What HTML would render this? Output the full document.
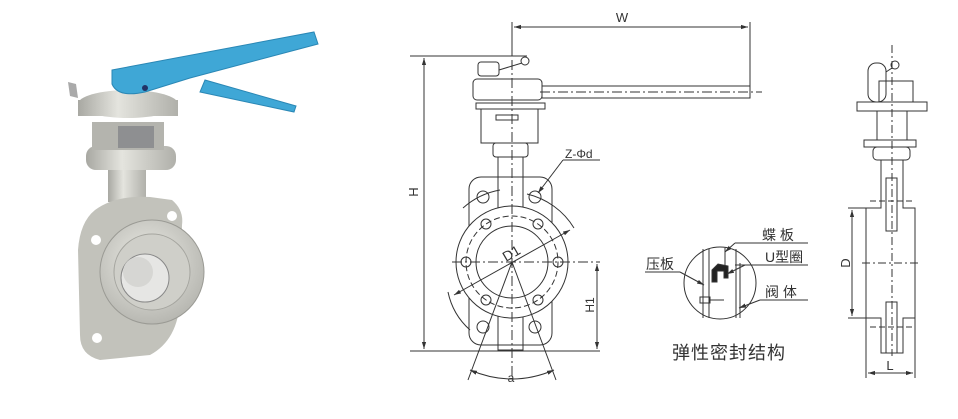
<!DOCTYPE html>
<html><head><meta charset="utf-8"><style>
html,body{margin:0;padding:0;background:#fff;}
svg{display:block}
text{font-family:"Liberation Sans","Noto Sans CJK SC",sans-serif;fill:#333}
</style></head><body>
<svg width="958" height="419" viewBox="0 0 958 419" xmlns="http://www.w3.org/2000/svg">
<defs>
<linearGradient id="met" x1="0" x2="1" y1="0" y2="0">
<stop offset="0" stop-color="#a8a8a2"/><stop offset=".4" stop-color="#e4e4de"/><stop offset="1" stop-color="#b0b0aa"/></linearGradient>
<radialGradient id="face" cx=".45" cy=".4" r=".6"><stop offset="0" stop-color="#ececE6"/><stop offset="1" stop-color="#b8b8b2"/></radialGradient>
<marker id="ar" viewBox="0 0 10 10" refX="10" refY="5" markerWidth="7" markerHeight="7" orient="auto-start-reverse"><path d="M0,2 L10,5 L0,8z" fill="#333"/></marker>
</defs>

<!-- PHOTO -->
<g>
<rect x="108" y="168" width="38" height="34" fill="url(#met)"/>
<path d="M95,210 Q115,195 150,197 L172,200 Q184,210 182,225 L180,300 Q178,340 150,355 L100,360 Q80,355 80,335 L78,250 Q80,222 95,210z" fill="#c2c2bb"/>
<circle cx="152" cy="272" r="52" fill="url(#face)" stroke="#9a9a94"/>
<circle cx="152" cy="272" r="38" fill="#cfcfc9" stroke="#a5a59f"/>
<circle cx="145" cy="278" r="24" fill="#e6e6e4" stroke="#888"/>
<circle cx="138" cy="272" r="15" fill="#d6d6d3"/>
<circle cx="96" cy="240" r="5" fill="#fff"/><circle cx="172" cy="216" r="5" fill="#fff"/><circle cx="97" cy="338" r="5" fill="#fff"/>
<rect x="86" y="146" width="90" height="24" rx="10" fill="url(#met)"/>
<rect x="92" y="122" width="72" height="28" fill="#b4b4ae"/>
<rect x="118" y="126" width="36" height="22" fill="#8e8f91"/>
<ellipse cx="128" cy="104" rx="50" ry="14" fill="url(#met)"/>
<rect x="78" y="100" width="100" height="16" fill="url(#met)"/>
<path d="M68,82 L76,84 L78,98 L70,96z" fill="#aaa"/>
<path d="M112,70 L314,32 L318,44 L190,78 L145,92 Q118,98 112,84z" fill="#3fa7d6" stroke="#2a87b5"/>
<path d="M205,80 L296,106 L294,112 L200,92z" fill="#3fa7d6" stroke="#2a87b5"/>
<circle cx="145" cy="88" r="3" fill="#236"/>
</g>

<g stroke="#333" stroke-width="1" fill="none">
<line x1="512" y1="22" x2="512" y2="56"/><line x1="750" y1="22" x2="750" y2="98"/>
<line x1="514" y1="27" x2="748" y2="27" marker-start="url(#ar)" marker-end="url(#ar)"/>
<line x1="410" y1="56" x2="527" y2="56"/><line x1="410" y1="351" x2="600" y2="351"/>
<line x1="424" y1="58" x2="424" y2="349" marker-start="url(#ar)" marker-end="url(#ar)"/>
<rect x="478" y="62" width="21" height="14" rx="3"/>
<line x1="499" y1="70" x2="522" y2="63"/><circle cx="525" cy="61" r="4"/>
<rect x="473" y="79" width="69" height="21" rx="4"/>
<rect x="542" y="86" width="208" height="12"/>
<rect x="476" y="103" width="69" height="6"/>
<rect x="481" y="109" width="57" height="34"/>
<rect x="496" y="115" width="22" height="5"/>
<rect x="493" y="143" width="35" height="14" rx="3"/>
<rect x="498" y="157" width="25" height="193"/>
<rect x="469" y="177" width="83" height="168" rx="12"/>
<circle cx="512" cy="262" r="56" fill="#fff"/>
<circle cx="512" cy="262" r="36"/>
<circle cx="512" cy="262" r="46" stroke-dasharray="6,3"/>
<circle cx="483" cy="197" r="6"/><circle cx="535" cy="197" r="6"/><circle cx="483" cy="327" r="6"/><circle cx="535" cy="327" r="6"/>
<circle cx="466" cy="262" r="5"/><circle cx="558" cy="262" r="5"/>
<circle cx="486" cy="224" r="5"/><circle cx="538" cy="224" r="5"/><circle cx="486" cy="300" r="5"/><circle cx="538" cy="300" r="5"/>
<line x1="452" y1="262" x2="600" y2="262" stroke-dasharray="10,3,2,3"/>
<line x1="512" y1="60" x2="512" y2="378" stroke-dasharray="10,3,2,3"/>
<line x1="540" y1="92" x2="762" y2="92" stroke-dasharray="10,3,2,3"/>
<line x1="597" y1="264" x2="597" y2="349" marker-start="url(#ar)" marker-end="url(#ar)"/>
<line x1="454" y1="295" x2="570" y2="230" marker-start="url(#ar)" marker-end="url(#ar)"/>
<path d="M448,292 A70,70 0 0 0 470,330"/><path d="M463,208 A75,75 0 0 1 500,190"/><path d="M527,194 A75,75 0 0 1 574,228"/>
<line x1="512" y1="262" x2="468" y2="380"/><line x1="512" y1="262" x2="556" y2="380"/>
<path d="M470,370 Q512,388 554,370" marker-start="url(#ar)" marker-end="url(#ar)"/>
<line x1="563" y1="160" x2="600" y2="160"/><line x1="563" y1="160" x2="538" y2="193" marker-end="url(#ar)"/>

<circle cx="720" cy="283" r="36"/>
<line x1="703" y1="249" x2="703" y2="318"/><line x1="709" y1="249" x2="709" y2="318"/>
<line x1="725" y1="248" x2="725" y2="276"/><line x1="736" y1="249" x2="736" y2="318"/>
<line x1="740" y1="263" x2="740" y2="318"/>
<path d="M712,270 L718,264 L728,266 L728,278 L724,278 L724,271 L717,271 L717,282 L712,282z" fill="#222"/>
<rect x="700" y="297" width="10" height="6"/><line x1="710" y1="300" x2="724" y2="300"/>
<line x1="735" y1="243" x2="808" y2="243"/><line x1="735" y1="243" x2="725" y2="252" marker-end="url(#ar)"/>
<line x1="735" y1="265" x2="808" y2="265"/><line x1="745" y1="265" x2="727" y2="274" marker-end="url(#ar)"/>
<line x1="760" y1="300" x2="808" y2="300"/><line x1="760" y1="300" x2="739" y2="308" marker-end="url(#ar)"/>
<line x1="645" y1="272" x2="680" y2="272"/><line x1="680" y1="272" x2="704" y2="285" marker-end="url(#ar)"/>

<rect x="868" y="63" width="18" height="39" rx="8"/><circle cx="895" cy="65" r="4"/><line x1="886" y1="72" x2="892" y2="68"/>
<rect x="879" y="81" width="34" height="21"/>
<rect x="857" y="102" width="70" height="9"/>
<rect x="877" y="111" width="30" height="29"/>
<rect x="864" y="140" width="52" height="7"/>
<rect x="873" y="147" width="37" height="13" rx="4"/>
<path d="M881,160 L881,208 L866,208 L866,318 L881,318 L881,353 L903,353 L903,318 L915,318 L915,208 L903,208 L903,160"/>
<rect x="886" y="178" width="11" height="53"/><rect x="886" y="302" width="11" height="51"/>
<line x1="892" y1="45" x2="892" y2="356" stroke-dasharray="8,3,2,3"/>
<line x1="862" y1="263" x2="920" y2="263" stroke-dasharray="8,3,2,3"/>
<line x1="870" y1="201" x2="915" y2="201" stroke-dasharray="6,3"/><line x1="870" y1="327" x2="915" y2="327" stroke-dasharray="6,3"/>
<line x1="848" y1="208" x2="866" y2="208"/><line x1="848" y1="318" x2="866" y2="318"/>
<line x1="852" y1="210" x2="852" y2="316" marker-start="url(#ar)" marker-end="url(#ar)"/>
<line x1="866" y1="318" x2="866" y2="378"/><line x1="915" y1="318" x2="915" y2="378"/>
<line x1="868" y1="373" x2="913" y2="373" marker-start="url(#ar)" marker-end="url(#ar)"/>
</g>

<text x="622" y="22" font-size="13" text-anchor="middle">W</text>
<text transform="translate(418,192) rotate(-90)" font-size="13" text-anchor="middle">H</text>
<text transform="translate(594,305) rotate(-90)" font-size="12" text-anchor="middle">H1</text>
<text transform="translate(506,262) rotate(-30)" font-size="14">D1</text>
<text x="511" y="382" font-size="12" text-anchor="middle">a</text>
<text x="565" y="158" font-size="12">Z-Φd</text>
<text x="762" y="240" font-size="14">蝶 板</text>
<text x="765" y="262" font-size="14">U型圈</text>
<text x="765" y="297" font-size="14">阀 体</text>
<text x="646" y="269" font-size="14">压板</text>
<text x="672" y="359" font-size="18" letter-spacing="1">弹性密封结构</text>
<text transform="translate(850,263) rotate(-90)" font-size="13" text-anchor="middle">D</text>
<text x="890" y="370" font-size="13" text-anchor="middle">L</text>
</svg>
</body></html>
